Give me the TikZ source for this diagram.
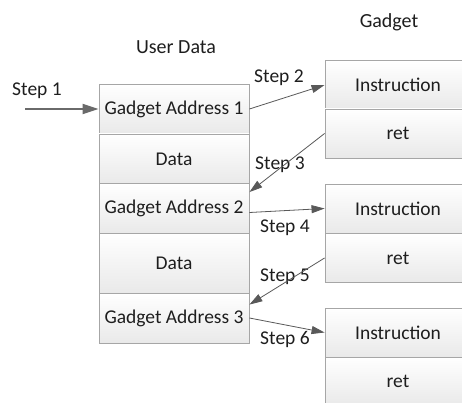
\documentclass[tikz,border=0pt]{standalone}
\usepackage{fontspec}
\setmainfont{Carlito}
\usetikzlibrary{arrows.meta,calc}
\definecolor{boxline}{HTML}{A6A6A6}
\definecolor{boxtop}{HTML}{FFFFFF}
\definecolor{boxbot}{HTML}{E9E9E9}
\definecolor{arrowgray}{HTML}{595959}
\definecolor{entrygray}{HTML}{6A6A6A}
\definecolor{txt}{HTML}{1E1E1E}
\tikzset{
  cell/.style={rectangle, draw=boxline, line width=0.9pt, top color=boxtop, bottom color=boxbot,
    minimum width=150pt, minimum height=50pt, inner sep=0pt, text=txt,
    font=\fontsize{19.5}{22}\selectfont},
  gcell/.style={cell, minimum width=146pt, minimum height=49pt},
  lbl/.style={text=txt, font=\fontsize{19.5}{22}\selectfont, inner sep=0pt},
  hdr/.style={text=txt, font=\fontsize{20}{23}\selectfont, inner sep=0pt},
  link/.style={draw=arrowgray, line width=0.8pt, -{Triangle[length=13pt,width=8pt]}},
  entry/.style={draw=entrygray, line width=2pt, -{Triangle[length=16pt,width=10pt]}}
}
\begin{document}
\begin{tikzpicture}[x=1pt,y=-1pt]
\useasboundingbox (0,0) rectangle (462,403);
\clip (0,0) rectangle (462,403);
\fill[white] (0,0) rectangle (462,403);

% user data stack
\node[cell] (ga1) at (174,109) {Gadget Address 1};
\node[cell] (d1)  at (174,159) {Data};
\node[cell] (ga2) at (174,208.5) {Gadget Address 2};
\node[cell, minimum height=60pt] (d2) at (174,263) {Data};
\node[cell] (ga3) at (174,318) {Gadget Address 3};

% gadgets
\node[gcell] (ins1) at (398,85)    {Instruction};
\node[gcell] (ret1) at (398,133.5) {ret};
\node[gcell] (ins2) at (398,208.5) {Instruction};
\node[gcell] (ret2) at (398,258)   {ret};
\node[gcell] (ins3) at (398,332.5) {Instruction};
\node[gcell] (ret3) at (398,381.5) {ret};

% headings
\node[hdr] (hud) at (176,47) {User Data};
\node[hdr] (hg)  at (389,22) {Gadget};

% step labels
\node[lbl] (s1) at (37,91)   {Step 1};
\node[lbl] (s2) at (279,78)  {Step 2};
\node[lbl] (s3) at (280,165) {Step 3};
\node[lbl] (s4) at (285,228) {Step 4};
\node[lbl] (s5) at (285,277) {Step 5};
\node[lbl] (s6) at (285,339) {Step 6};

% control flow
\coordinate (start) at (25,109);
\draw[entry] (start) -- (ga1.west);
\draw[link] (ga1.east) -- (ins1.west);
\draw[link] (ret1.west) -- ([yshift=-9pt]ga2.north east);
\draw[link] ([yshift=-4pt]ga2.east) -- (ins2.west);
\draw[link] (ret2.west) -- ([yshift=-12pt]ga3.north east);
\draw[link] (ga3.east) -- (ins3.west);
\end{tikzpicture}
\end{document}
